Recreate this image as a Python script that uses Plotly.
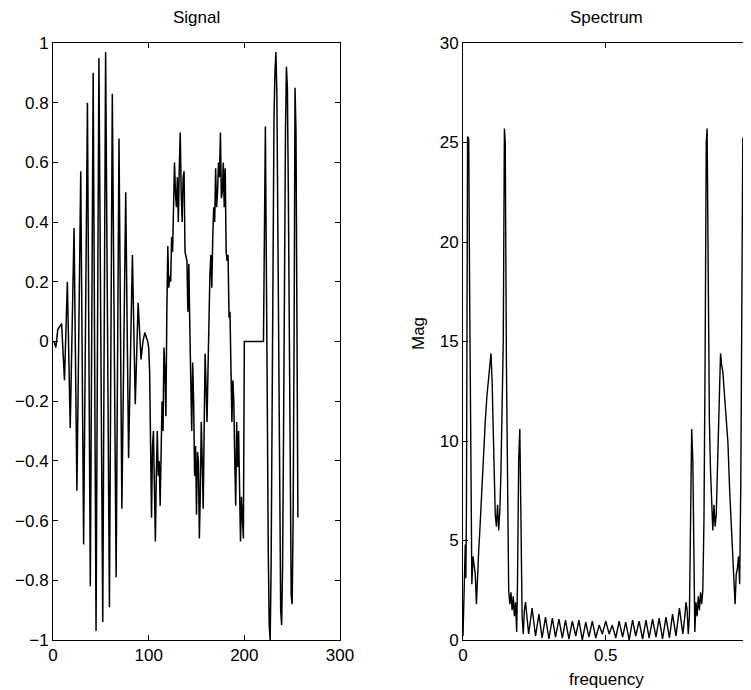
import plotly.graph_objects as go
from plotly.subplots import make_subplots

# time signal: samples (peaks, troughs and ripple)
sig_n = [
    1, 3, 5, 7, 9, 12, 15, 18, 22, 25, 29, 32, 36, 39, 42, 45, 48, 52, 55, 59,
    62, 66, 69, 72, 76, 79, 83, 86, 89, 92, 94, 96, 97, 98, 99, 100,
    101, 103, 104, 105, 106, 107, 108, 109, 110, 111, 112, 113, 114, 115, 116, 117, 118, 119,
    120, 121, 122, 123, 124, 125, 126, 127, 128, 129, 130, 131, 132, 133, 134, 135, 136, 137,
    138, 139, 140, 141, 142, 143, 144, 145, 146, 147, 148, 149, 150, 151, 152, 153, 154, 155,
    156, 157, 158, 159, 160, 161, 162, 163, 164, 165, 166, 167, 168, 169, 170, 171, 172, 173,
    174, 175, 176, 177, 178, 179, 180, 181, 182, 183, 184, 185, 186, 187, 188, 189, 190, 191,
    192, 193, 194, 195, 196, 197, 198, 199, 200, 220,
    222, 223, 224, 225, 226, 227, 228, 229, 230, 231, 232, 233, 234, 235, 236, 237, 238, 239,
    240, 241, 242, 243, 244, 245, 246, 247, 248, 249, 250, 251, 252, 253, 254, 255, 256,
]
sig_val = [
    0.0, -0.02, 0.04, 0.05, 0.06, -0.13, 0.2, -0.29, 0.38, -0.5, 0.57, -0.68, 0.8, -0.82,
    0.9, -0.97, 0.95, -0.94, 0.97, -0.89, 0.83, -0.79, 0.68, -0.56, 0.5, -0.39, 0.29, -0.21,
    0.13, -0.06, 0.0, 0.03, 0.02, 0.01, 0.0, -0.02,
    -0.1, -0.59, -0.35, -0.3, -0.5, -0.67, -0.45, -0.3, -0.45, -0.4, -0.55, -0.42, -0.2, -0.3,
    -0.02, -0.1, -0.25, 0.1,
    0.32, 0.18, 0.22, 0.2, 0.35, 0.3, 0.45, 0.6, 0.5, 0.45, 0.55, 0.4, 0.58, 0.7, 0.5, 0.4,
    0.55, 0.57,
    0.3, 0.28, 0.27, 0.1, 0.26, 0.05, -0.1, -0.3, -0.07, -0.2, -0.45, -0.35, -0.58, -0.37,
    -0.4, -0.66, -0.5, -0.27,
    -0.4, -0.56, -0.3, -0.04, -0.15, -0.27, -0.1, 0.1, 0.22, 0.29, 0.18, 0.35, 0.45, 0.4,
    0.58, 0.45, 0.5, 0.6,
    0.55, 0.7, 0.48, 0.5, 0.6, 0.45, 0.58, 0.3, 0.27, 0.29, 0.08, 0.1, -0.1, -0.27, -0.13,
    -0.2, -0.4, -0.55,
    -0.27, -0.42, -0.3, -0.5, -0.67, -0.52, -0.58, -0.66, 0.0, 0.0,
    0.72, 0.35, -0.2, -0.7, -0.95, -1.0, -0.75, -0.25, 0.3, 0.75, 0.9, 0.97, 0.83, 0.4,
    -0.15, -0.65, -0.9, -0.95,
    -0.75, -0.3, 0.25, 0.7, 0.92, 0.85, 0.5, -0.05, -0.55, -0.85, -0.88, -0.6, 0.0, 0.85,
    0.7, 0.1, -0.59,
]

# magnitude spectrum
spec_f = [
    0.000, 0.004, 0.008, 0.010, 0.012, 0.016, 0.020, 0.023, 0.027, 0.031, 0.035, 0.039,
    0.043, 0.047, 0.051, 0.055, 0.059, 0.066, 0.072, 0.078, 0.084, 0.090, 0.094, 0.098,
    0.102, 0.106, 0.110, 0.113, 0.117, 0.121, 0.125, 0.129, 0.133, 0.137, 0.141, 0.145,
    0.148, 0.152, 0.156, 0.160, 0.164, 0.168, 0.172, 0.176, 0.180, 0.184, 0.188, 0.191,
    0.195, 0.199, 0.203, 0.207, 0.211, 0.215, 0.219, 0.223, 0.230, 0.242, 0.254, 0.266,
    0.277, 0.289, 0.301, 0.313, 0.324, 0.336, 0.348, 0.359, 0.371, 0.383, 0.395, 0.406,
    0.418, 0.430, 0.441, 0.453, 0.465, 0.477, 0.488, 0.500,
    0.512, 0.523, 0.535, 0.547, 0.559, 0.570, 0.582, 0.594, 0.605, 0.617, 0.629, 0.641,
    0.652, 0.664, 0.676, 0.687, 0.699, 0.711, 0.723, 0.734, 0.746, 0.758, 0.770, 0.777,
    0.781, 0.785, 0.789, 0.793, 0.797, 0.801, 0.805, 0.809, 0.812, 0.816, 0.820, 0.824,
    0.828, 0.832, 0.836, 0.840, 0.844, 0.848, 0.852, 0.855, 0.859, 0.863, 0.867, 0.871,
    0.875, 0.879, 0.883, 0.887, 0.890, 0.894, 0.898, 0.902, 0.906, 0.910, 0.916, 0.922,
    0.928, 0.934, 0.941, 0.945, 0.949, 0.953, 0.957, 0.961, 0.965, 0.969, 0.973, 0.977,
    0.980, 0.984, 0.988, 0.990, 0.992, 0.996, 1.000,
]
spec_mag = [
    0.2, 2.0, 4.8, 3.1, 6.5, 25.3, 25.2, 18.0, 7.8, 2.8, 4.2, 3.6,
    3.3, 1.8, 3.6, 4.5, 5.5, 7.5, 9.9, 11.0, 12.3, 13.5, 13.8, 14.4,
    13.0, 10.5, 8.0, 6.3, 5.7, 6.8, 5.5, 6.5, 8.5, 11.0, 15.0, 25.7,
    25.0, 14.0, 6.0, 2.5, 1.8, 2.4, 1.5, 2.2, 1.2, 1.9, 0.4, 3.0,
    9.0, 10.6, 6.0, 1.2, 0.3, 1.5, 1.9, 1.2, 0.3, 1.6, 0.2, 1.3,
    0.1, 1.15, 0.05, 1.1, 0.15, 1.05, 0.1, 1.0, 0.05, 0.95, 0.2, 1.0,
    0.0, 0.9, 0.15, 0.95, 0.1, 0.75, 0.3, 0.95,
    0.3, 0.75, 0.1, 0.95, 0.15, 0.9, 0.0, 1.0, 0.2, 0.95, 0.05, 1.0,
    0.1, 1.05, 0.15, 1.1, 0.05, 1.15, 0.1, 1.3, 0.2, 1.6, 0.3, 1.2,
    1.9, 1.5, 0.3, 1.2, 6.0, 10.6, 9.0, 3.0, 0.4, 1.9, 1.2, 2.2,
    1.5, 2.4, 1.8, 2.5, 6.0, 14.0, 25.0, 25.7, 15.0, 11.0, 8.5, 6.5,
    5.5, 6.8, 5.7, 6.3, 8.0, 10.5, 13.0, 14.4, 13.8, 13.5, 12.3, 11.0,
    9.9, 7.5, 5.5, 4.5, 3.6, 1.8, 3.3, 3.6, 4.2, 2.8, 7.8, 18.0,
    25.2, 25.3, 6.5, 3.1, 4.8, 2.0, 0.2,
]

sig_ticks = [-1, -0.8, -0.6, -0.4, -0.2, 0, 0.2, 0.4, 0.6, 0.8, 1]
sig_tick_text = ["\u22121", "\u22120.8", "\u22120.6", "\u22120.4", "\u22120.2", "0",
                 "0.2", "0.4", "0.6", "0.8", "1"]
n_ticks = [0, 100, 200, 300]
mag_ticks = [0, 5, 10, 15, 20, 25, 30]
f_ticks = [0, 0.5, 1]
f_tick_text = ["0", "0.5", "1"]

# the page body adds an 8px margin, so work in figure pixels = screen pixels - 8
OFF = 8
W, H = 751 - OFF, 690 - OFF
font = "Liberation Sans, Arial, Helvetica, sans-serif"


def px_x(p):
    return (p - OFF) / W


def px_y(p):
    return 1 - (p - OFF) / H


fig = make_subplots(rows=1, cols=2)
fig.add_trace(
    go.Scatter(x=sig_n, y=sig_val, mode="lines",
               line=dict(color="black", width=1.5), showlegend=False),
    row=1, col=1,
)
fig.add_trace(
    go.Scatter(x=spec_f, y=spec_mag, mode="lines",
               line=dict(color="black", width=1.4), showlegend=False),
    row=1, col=2,
)

axis_style = dict(
    showline=True, mirror="ticks", linecolor="black", linewidth=1,
    ticks="inside", ticklen=5, tickcolor="black", showgrid=False, zeroline=False,
    automargin=False,
    tickfont=dict(family=font, size=17, color="black"),
)
fig.update_xaxes(**axis_style)
fig.update_yaxes(**axis_style)

fig.update_xaxes(range=[0, 300], tickvals=n_ticks, domain=[px_x(53), px_x(340)], row=1, col=1)
fig.update_yaxes(range=[-1, 1], tickvals=sig_ticks, ticktext=sig_tick_text,
                 domain=[px_y(640), px_y(43)], row=1, col=1)
fig.update_xaxes(range=[0, 1], tickvals=f_ticks, ticktext=f_tick_text,
                 domain=[px_x(463), px_x(748.5)], row=1, col=2)
fig.update_yaxes(range=[0, 30], tickvals=mag_ticks,
                 domain=[px_y(640), px_y(43)], row=1, col=2)

labels = [
    dict(text="Signal", x=px_x(196), y=px_y(18)),
    dict(text="Spectrum", x=px_x(606), y=px_y(18)),
    dict(text="frequency", x=px_x(606), y=px_y(679)),
    dict(text="Mag", x=px_x(418), y=px_y(334), textangle=-90),
]
for lab in labels:
    fig.add_annotation(xref="paper", yref="paper", showarrow=False,
                       xanchor="center", yanchor="middle",
                       font=dict(family=font, size=17, color="black"), **lab)

fig.update_layout(
    width=W, height=H,
    margin=dict(l=0, r=0, t=0, b=0),
    paper_bgcolor="white",
    plot_bgcolor="white",
)
fig.write_html("out.html")
